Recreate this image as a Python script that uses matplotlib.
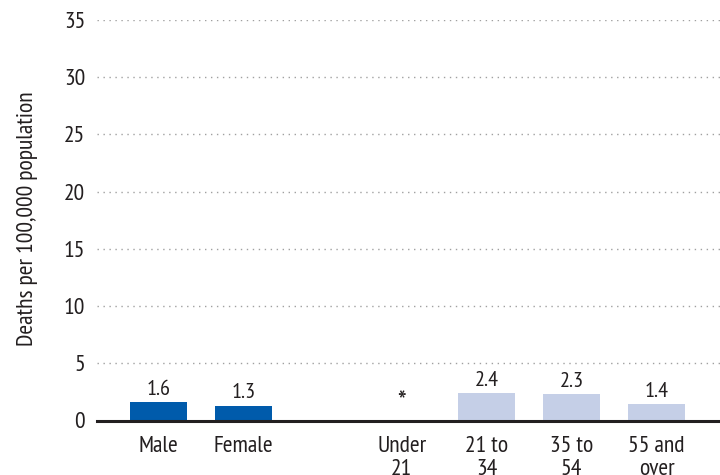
import matplotlib
matplotlib.use("Agg")
import matplotlib.pyplot as plt
import numpy as np

# ---- data ----
sex_categories = ["Male", "Female"]
sex_values = [1.6, 1.3]
age_categories = ["Under\n21", "21 to\n34", "35 to\n54", "55 and\nover"]
age_values = [0.0, 2.4, 2.3, 1.4]
age_labels = ["*", "2.4", "2.3", "1.4"]
y_ticks = [0, 5, 10, 15, 20, 25, 30, 35]
y_label = "Deaths per 100,000 population"

# ---- style ----
plt.rcParams['font.family'] = ['PT Sans Narrow', 'DejaVu Sans']
text_color = "#231f20"
dark_blue = "#005bab"
light_blue = "#c5cfe7"
group_gap = 1.86
bar_width = 0.67

fig = plt.figure(figsize=(7.2, 4.75), dpi=100)
ax = fig.add_axes([97 / 720, 1 - 420.5 / 475, 1 - 97 / 720, 400.5 / 475])

sex_pos = np.arange(len(sex_categories))
age_pos = np.arange(len(age_categories)) + sex_pos[-1] + group_gap

b1 = ax.bar(sex_pos, sex_values, width=bar_width, color=dark_blue, zorder=3)
b2 = ax.bar(age_pos, age_values, width=bar_width, color=light_blue, zorder=3)
ax.bar_label(b1, labels=[f"{v:.1f}" for v in sex_values], padding=2.5,
             fontsize=16, color=text_color)
age_texts = ax.bar_label(b2, labels=age_labels, padding=2.5, fontsize=16,
                         color=text_color)
for t in age_texts:
    if t.get_text() == "*":
        t.set_fontsize(21)

ax.set_ylim(0, 35)
ax.set_yticks(y_ticks)
ax.set_xlim(sex_pos[0] - 0.7235, sex_pos[0] + 6.606)
ax.set_xticks(list(sex_pos) + list(age_pos))
ax.set_xticklabels(sex_categories + age_categories, linespacing=1.12)

ax.tick_params(axis='both', length=0, colors=text_color)
ax.tick_params(axis='y', pad=8.5, labelsize=17)
ax.tick_params(axis='x', pad=11, labelsize=17)

ax.grid(axis='y', color="#a0a0a0", linewidth=1, linestyle=(0, (1, 3.3)), zorder=0)
ax.set_axisbelow(True)
for s in ["top", "right", "left"]:
    ax.spines[s].set_visible(False)
ax.spines["bottom"].set_color(text_color)
ax.spines["bottom"].set_linewidth(2.2)
ax.spines["bottom"].set_zorder(4)

ax.set_ylabel(y_label, fontsize=17, color=text_color, va='center')
ax.yaxis.set_label_coords(-0.112, 0.505)

fig.savefig("out.png", dpi=100)
